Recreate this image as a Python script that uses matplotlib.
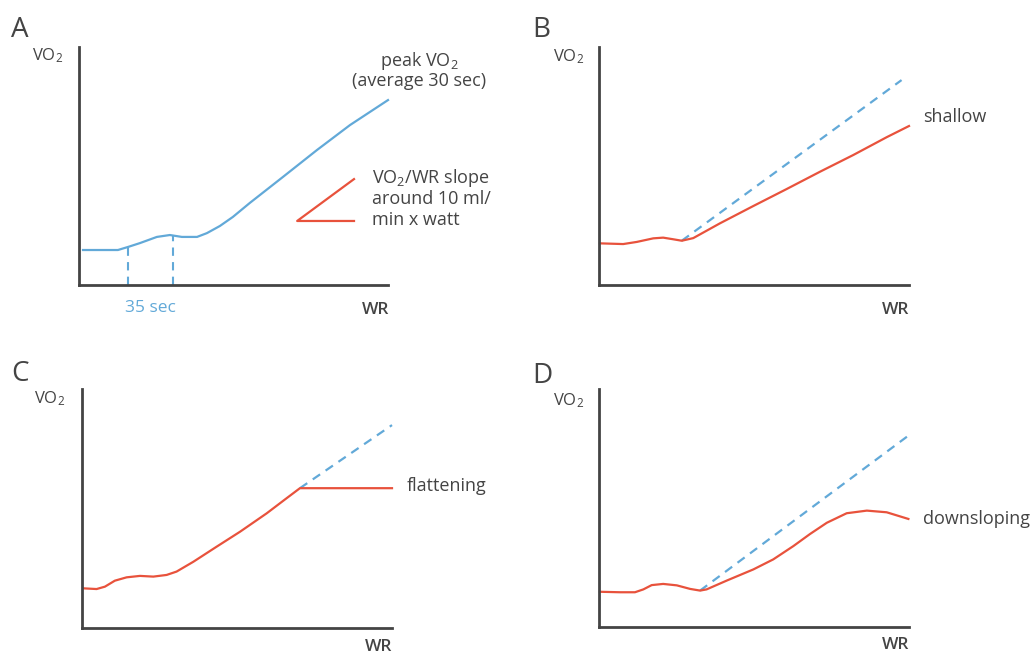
import matplotlib
matplotlib.use("Agg")
import matplotlib.pyplot as plt

plt.rcParams["font.family"] = ["Open Sans", "DejaVu Sans"]
plt.rcParams["mathtext.fontset"] = "custom"
plt.rcParams["mathtext.rm"] = "Open Sans"
plt.rcParams["mathtext.it"] = "Open Sans:italic"
plt.rcParams["mathtext.bf"] = "Open Sans:bold"

# ---- datos (escala 0-100 en cada panel) ----
a_x = [1.3, 12.6, 15.9, 19.7, 25.2, 29.4, 33.3, 38.2, 41.4, 45.6, 49.8, 55.3, 66.0, 77.0, 87.7, 100]
a_y = [14.7, 14.7, 16.0, 17.6, 20.2, 21.0, 20.2, 20.2, 21.8, 24.8, 28.6, 34.5, 45.4, 56.7, 67.2, 77.7]
a_marks_x = [15.9, 30.4]
a_marks_y = [16.0, 21.0]
a_slope_x = [89.0, 70.6, 89.0]
a_slope_y = [44.5, 26.9, 26.9]

b_x = [0.3, 7.8, 12.2, 17.5, 20.7, 24.0, 26.7, 30.4, 39.0, 49.8, 60.5, 71.3, 82.0, 92.8, 100]
b_y = [17.5, 17.2, 18.1, 19.6, 19.9, 19.2, 18.6, 19.7, 25.9, 33.2, 40.3, 47.6, 54.6, 62.1, 66.8]
b_ref_x = [26.7, 97.6]
b_ref_y = [18.6, 86.1]

c_x = [0.4, 4.7, 7.4, 10.6, 14.4, 18.7, 23.0, 27.3, 30.5, 35.9, 43.4, 51.0, 59.6, 66.0, 70.3, 100]
c_y = [16.6, 16.3, 17.3, 19.8, 21.2, 21.8, 21.5, 22.2, 23.6, 27.7, 34.0, 40.3, 48.0, 54.3, 58.5, 58.5]
c_ref_x = [70.3, 100]
c_ref_y = [58.5, 84.9]

d_x = [0.3, 6.8, 11.6, 14.3, 17.0, 20.7, 25.1, 29.4, 32.6, 34.7, 41.2, 49.8, 56.2, 62.7, 68.1, 73.5, 79.9, 86.4, 92.8, 99.8]
d_y = [14.8, 14.6, 14.6, 15.8, 17.6, 18.1, 17.5, 16.0, 15.3, 15.8, 19.5, 24.2, 28.4, 34.0, 39.1, 43.8, 47.8, 48.9, 48.2, 45.4]
d_ref_x = [32.6, 100]
d_ref_y = [15.3, 80.6]

AZUL = "#62a9d8"
ROJO = "#e8523c"
GRIS = "#444444"
W, H = 1031, 655

fig = plt.figure(figsize=(W / 100, H / 100), dpi=100)


def panel(x0, y_top, x1, y_bot):
    ax = fig.add_axes([x0 / W, 1 - y_bot / H, (x1 - x0) / W, (y_bot - y_top) / H])
    ax.set_xlim(0, 100)
    ax.set_ylim(0, 100)
    for s in ["top", "right"]:
        ax.spines[s].set_visible(False)
    for s in ["left", "bottom"]:
        ax.spines[s].set_color(GRIS)
        ax.spines[s].set_linewidth(2)
    ax.set_xticks([])
    ax.set_yticks([])
    ax.patch.set_alpha(0)
    return ax


def txt(x, y, s, **kw):
    kw.setdefault("color", GRIS)
    kw.setdefault("fontsize", 13)
    fig.text(x / W, 1 - y / H, s, **kw)


VO2 = r"VO$_\mathregular{2}$"

# Panel A
ax = panel(79, 47, 388, 285)
ax.plot(a_x, a_y, color=AZUL, lw=1.6, clip_on=False)
for xv, yv in zip(a_marks_x, a_marks_y):
    ax.plot([xv, xv], [0, yv], color=AZUL, lw=1.5, ls=(0, (4, 3)))
ax.plot(a_slope_x, a_slope_y, color=ROJO, lw=1.6)
txt(11, 30, "A", fontsize=20, va="center")
txt(32, 56, VO2, va="center", fontsize=12)
txt(419, 61, "peak " + VO2, ha="center", va="center")
txt(419, 81, "(average 30 sec)", ha="center", va="center")
txt(372, 178, VO2 + "/WR slope", va="center")
txt(372, 199, "around 10 ml/", va="center")
txt(372, 220, "min x watt", va="center")
txt(150, 308, "35 sec", ha="center", va="center", color=AZUL, fontsize=12.5)
txt(389, 310, "WR", ha="right", va="center", fontsize=12.5, fontweight="semibold")

# Panel B
ax = panel(599, 47, 909, 285)
ax.plot(b_ref_x, b_ref_y, color=AZUL, lw=1.6, ls=(0, (4, 3)), clip_on=False)
ax.plot(b_x, b_y, color=ROJO, lw=1.6, clip_on=False)
txt(532, 30, "B", fontsize=20, va="center")
txt(553, 57, VO2, va="center", fontsize=12)
txt(923, 117, "shallow", va="center")
txt(909, 310, "WR", ha="right", va="center", fontsize=12.5, fontweight="semibold")

# Panel C
ax = panel(82, 389, 392, 628)
ax.plot(c_ref_x, c_ref_y, color=AZUL, lw=1.6, ls=(0, (4, 3)), clip_on=False)
ax.plot(c_x, c_y, color=ROJO, lw=1.6, clip_on=False)
txt(11, 374, "C", fontsize=20, va="center")
txt(34, 399, VO2, va="center", fontsize=12)
txt(407, 486, "flattening", va="center")
txt(392, 647, "WR", ha="right", va="center", fontsize=12.5, fontweight="semibold")

# Panel D
ax = panel(599, 389, 909, 627)
ax.plot(d_ref_x, d_ref_y, color=AZUL, lw=1.6, ls=(0, (4, 3)), clip_on=False)
ax.plot(d_x, d_y, color=ROJO, lw=1.6, clip_on=False)
txt(532, 376, "D", fontsize=20, va="center")
txt(553, 401, VO2, va="center", fontsize=12)
txt(923, 519, "downsloping", va="center")
txt(909, 645, "WR", ha="right", va="center", fontsize=12.5, fontweight="semibold")

fig.savefig("out.png", dpi=100)
